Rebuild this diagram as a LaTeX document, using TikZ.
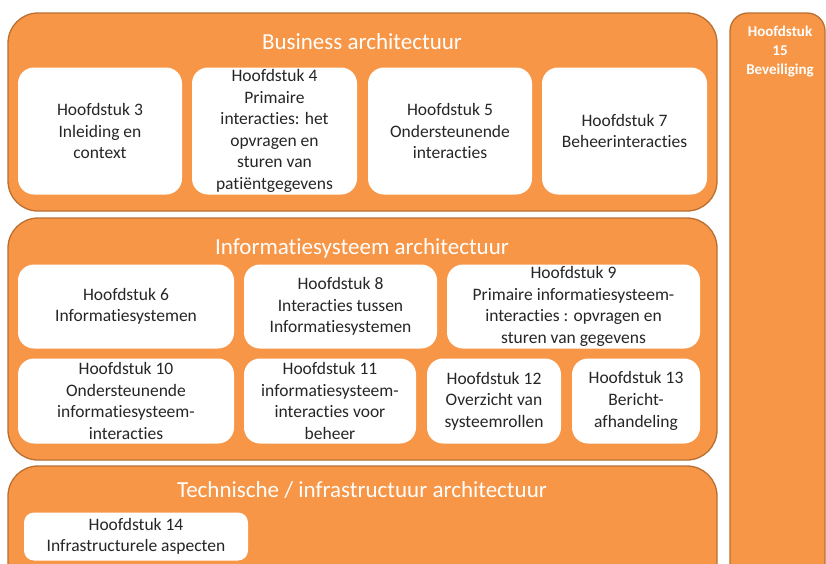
\documentclass[tikz,border=0pt]{standalone}
\usepackage{fontspec}
\setmainfont{Carlito}[Ligatures={NoCommon}]
\definecolor{laagoranje}{HTML}{F79646}
\definecolor{laagrand}{HTML}{B96F32}
\definecolor{tekstgrijs}{HTML}{262626}
\tikzset{
  laag/.style={draw=laagrand, line width=1.3pt, fill=laagoranje, rounded corners=30pt,
    rectangle, inner sep=0pt},
  hfdbox/.style={fill=white, rounded corners=16pt, rectangle, inner sep=0pt, align=center,
    text=tekstgrijs, font=\fontsize{17.5}{21.6}\selectfont},
  laagtitel/.style={text=white, font=\fontsize{23}{27}\selectfont, inner sep=0pt}
}
\begin{document}
\begin{tikzpicture}[x=1pt,y=-1pt]
    \useasboundingbox (0,0) rectangle (826,563);
    \clip (0,0) rectangle (826,563);
    \node[laag, minimum width=709pt, minimum height=198pt] (business) at (362.5,112) {};
    \node[laag, minimum width=709pt, minimum height=242pt] (informatie) at (362.5,339) {};
    \node[laag, minimum width=709pt, minimum height=154pt] (techniek) at (362.5,543) {};
    \node[laag, rounded corners=18pt, minimum width=95pt, minimum height=607pt] (beveiliging) at (777.5,316.5) {};
    \node[laagtitel] (titelbusiness) at (362,42) {Business architectuur};
    \node[laagtitel] (titelinformatie) at (362,248) {Informatiesysteem architectuur};
    \node[laagtitel] (titeltechniek) at (362,490) {Technische / infrastructuur architectuur};
    \node[text=white, font=\bfseries\fontsize{15}{19}\selectfont, align=center, anchor=north, inner sep=0pt]
      (hfd15) at (780,26) {Hoofdstuk\\15\\Beveiliging};
    % business laag
    \node[hfdbox, minimum width=164pt, minimum height=127pt] (hfd3) at (100,131) {Hoofdstuk 3\\Inleiding en\\context};
    \node[hfdbox, minimum width=165pt, minimum height=127pt] (hfd4) at (274.5,131) {Hoofdstuk 4\\Primaire\\interacties: het\\opvragen en\\sturen van\\patiëntgegevens};
    \node[hfdbox, minimum width=164pt, minimum height=127pt] (hfd5) at (450,131) {Hoofdstuk 5\\Ondersteunende\\interacties};
    \node[hfdbox, minimum width=165pt, minimum height=127pt] (hfd7) at (624.5,131) {Hoofdstuk 7\\Beheerinteracties};
    % informatiesysteem laag
    \node[hfdbox, minimum width=216pt, minimum height=84pt] (hfd6) at (126,306.5) {Hoofdstuk 6\\Informatiesystemen};
    \node[hfdbox, minimum width=193pt, minimum height=84pt] (hfd8) at (340.5,306.5) {Hoofdstuk 8\\Interacties tussen\\Informatiesystemen};
    \node[hfdbox, minimum width=253pt, minimum height=84pt] (hfd9) at (573.5,306.5) {Hoofdstuk 9\\Primaire informatiesysteem-\\interacties : opvragen en\\sturen van gegevens};
    \node[hfdbox, minimum width=216pt, minimum height=85pt] (hfd10) at (126,401) {Hoofdstuk 10\\Ondersteunende\\informatiesysteem-\\interacties};
    \node[hfdbox, minimum width=172pt, minimum height=85pt] (hfd11) at (330,401) {Hoofdstuk 11\\informatiesysteem-\\interacties voor\\beheer};
    \node[hfdbox, minimum width=134pt, minimum height=85pt] (hfd12) at (494,401) {Hoofdstuk 12\\Overzicht van\\systeemrollen};
    \node[hfdbox, minimum width=128pt, minimum height=85pt] (hfd13) at (636,401) {Hoofdstuk 13\\Bericht-\\afhandeling};
    % technische laag
    \node[hfdbox, rounded corners=10pt, minimum width=224pt, minimum height=48pt] (hfd14) at (136,536.5) {Hoofdstuk 14\\Infrastructurele aspecten};
\end{tikzpicture}
\end{document}
